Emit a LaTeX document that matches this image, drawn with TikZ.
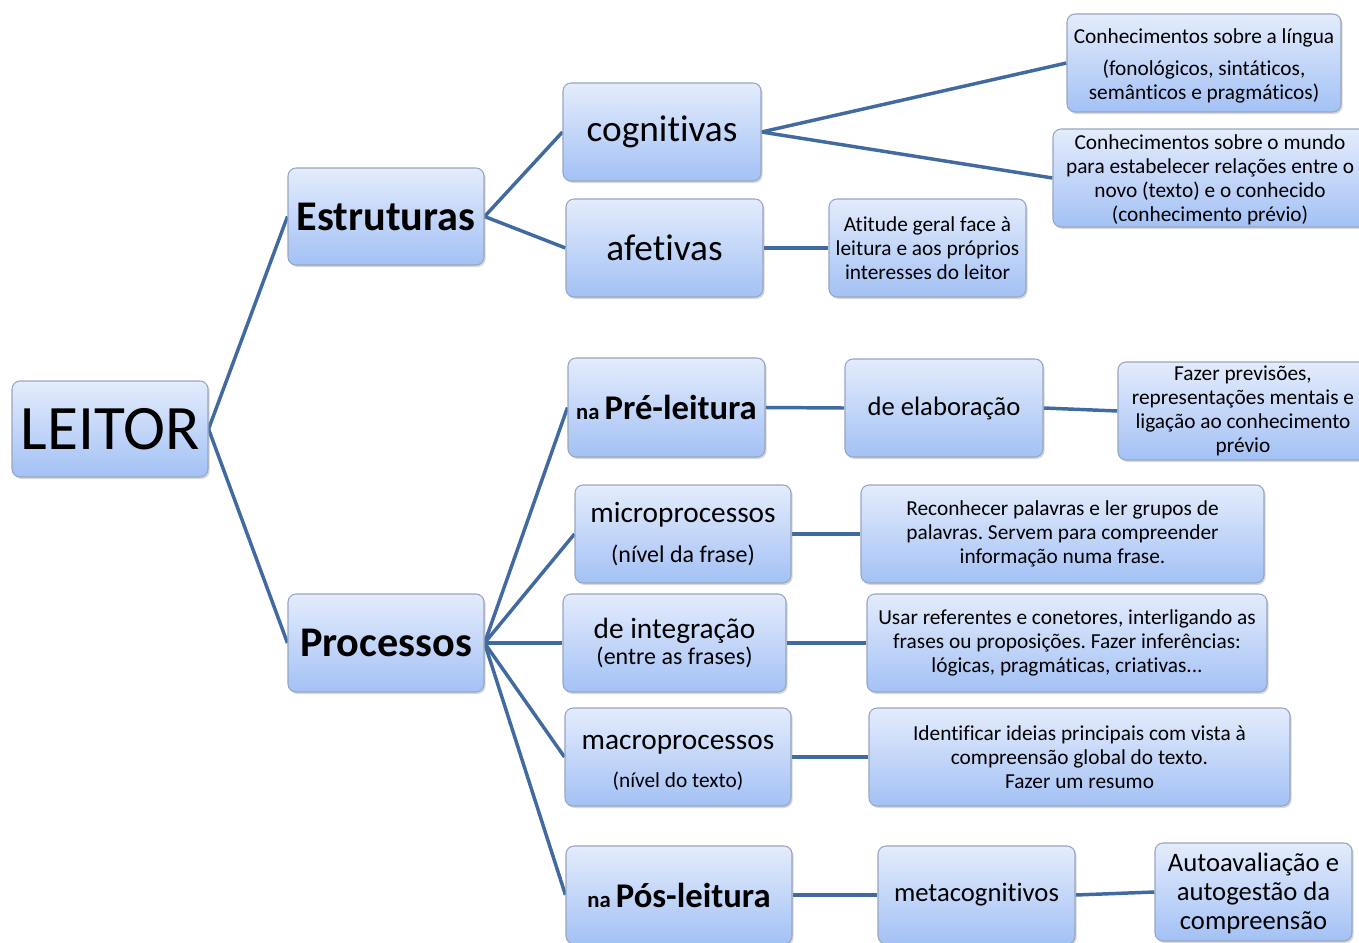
\documentclass[tikz,border=0pt]{standalone}
\usepackage{fontspec}
\setmainfont{Carlito}[Ligatures={NoCommon,NoContextual,NoRequired},Contextuals={NoAlternate},RawFeature={-liga}]
\usetikzlibrary{shadows}
\pgfdeclarelayer{bg}\pgfsetlayers{bg,main}
\definecolor{boxtop}{RGB}{228,236,252}
\definecolor{boxbot}{RGB}{163,193,245}
\definecolor{boxline}{RGB}{150,166,192}
\definecolor{conn}{RGB}{65,106,160}
\newcommand{\fs}[2]{\fontsize{#1}{#2}\selectfont}
\frenchspacing
\tikzset{
  box/.style={draw=boxline, line width=0.8pt, rounded corners=6pt,
    top color=boxtop, bottom color=boxbot, align=center, inner sep=1pt,
    minimum height=73.5pt,
    drop shadow={opacity=0.3, shadow xshift=1.2pt, shadow yshift=-1.5pt}},
  small/.style={font=\fs{16}{18}},
  link/.style={draw=conn, line width=2.6pt},
}
\begin{document}
\begin{tikzpicture}[x=0.75pt,y=-0.75pt]
\useasboundingbox (0,0) rectangle (1359,942);
% level 0
\node[box, minimum width=147pt, minimum height=72pt, font=\fs{47.5}{57}] (leitor) at (110,429) {LEITOR};
% level 1
\node[box, minimum width=147pt, minimum height=72.75pt, font=\fs{31.7}{38}\bfseries] (estr) at (386,216.5) {Estruturas};
\node[box, minimum width=147pt, font=\fs{31.7}{38}\bfseries] (proc) at (386,643) {Processos};
% Estruturas branch
\node[box, minimum width=148.5pt, font=\fs{28}{34}] (cogn) at (662,132) {\raisebox{-1.5pt}{cognitivas}};
\node[box, minimum width=147.75pt, font=\fs{28}{34}] (afet) at (664.5,248) {afetivas};
\node[box, minimum width=147.75pt, small] (atit) at (927.5,248) {Atitude geral face à\\leitura e aos próprios\\interesses do leitor};
\node[box, minimum width=205.5pt, small] (lingua) at (1204,63) {\rule{0pt}{16pt}Conhecimentos sobre a língua\\[6pt](fonológicos, sintáticos,\\semânticos e pragmáticos)};
\node[box, minimum width=235.5pt, small] (mundo) at (1210,178) {\rule{0pt}{14pt}Conhecimentos sobre o mundo\\para estabelecer relações entre o\\novo (texto) e o conhecido\\(conhecimento prévio)};
% Processos branch
\node[box, minimum width=147.75pt, minimum height=74.25pt] (pre) at (666.5,407.5) {\fs{17}{20}\bfseries na \fs{26}{30}\bfseries Pré-leitura};
\node[box, minimum width=148.5pt, font=\fs{20}{24}] (elab) at (944,408) {de elaboração};
\node[box, minimum width=187.5pt, small] (fazer) at (1243,411) {Fazer previsões,\\representações mentais e\\ligação ao conhecimento\\prévio};
\node[box, minimum width=162pt] (micro) at (683,534) {\fs{22}{26}microprocessos\\[12pt]\fs{18}{22}(nível da frase)};
\node[box, minimum width=302.25pt, small] (recon) at (1062.5,534) {Reconhecer palavras e ler grupos de\\palavras. Servem para compreender\\informação numa frase.};
\node[box, minimum width=167.25pt] (integ) at (674.5,643) {\fs{22}{24}de integração\\[1.5pt]\fs{18}{22}(entre as frases)};
\node[box, minimum width=300pt, small] (usar) at (1067,643) {Usar referentes e conetores, interligando as\\frases ou proposições. Fazer inferências:\\lógicas, pragmáticas, criativas...};
\node[box, minimum width=169.5pt] (macro) at (678,757) {\fs{22}{26}\rule{0pt}{19pt}macroprocessos\\[12pt]\fs{16}{20}(nível do texto)};
\node[box, minimum width=315.75pt, small] (ident) at (1079.5,757) {Identificar ideias principais com vista à\\compreensão global do texto.\\Fazer um resumo};
\node[box, minimum width=169.5pt] (pos) at (679,895) {\fs{17}{20}\bfseries na \fs{26}{30}\bfseries Pós-leitura};
\node[box, minimum width=147.75pt, font=\fs{20}{24}] (meta) at (976.5,895) {metacognitivos};
\node[box, minimum width=147.75pt, font=\fs{20}{21.75}] (auto) at (1253.5,892) {\rule{0pt}{16pt}Autoavaliação e\\autogestão da\\compreensão};
% connectors
\begin{pgfonlayer}{bg}
\draw[link] (leitor.east) -- (estr.west);
\draw[link] (leitor.east) -- (proc.west);
\draw[link] (estr.east) -- (cogn.west);
\draw[link] (estr.east) -- (afet.west);
\draw[link] (cogn.east) -- (lingua.west);
\draw[link] (cogn.east) -- (mundo.west);
\draw[link] (afet.east) -- (atit.west);
\draw[link] (proc.east) -- (pre.west);
\draw[link] (proc.east) -- (micro.west);
\draw[link] (proc.east) -- (integ.west);
\draw[link] (proc.east) -- (macro.west);
\draw[link] (proc.east) -- (pos.west);
\draw[link] (pre.east) -- (elab.west);
\draw[link] (elab.east) -- (fazer.west);
\draw[link] (micro.east) -- (recon.west);
\draw[link] (integ.east) -- (usar.west);
\draw[link] (macro.east) -- (ident.west);
\draw[link] (pos.east) -- (meta.west);
\draw[link] (meta.east) -- (auto.west);
\end{pgfonlayer}
\end{tikzpicture}
\end{document}
